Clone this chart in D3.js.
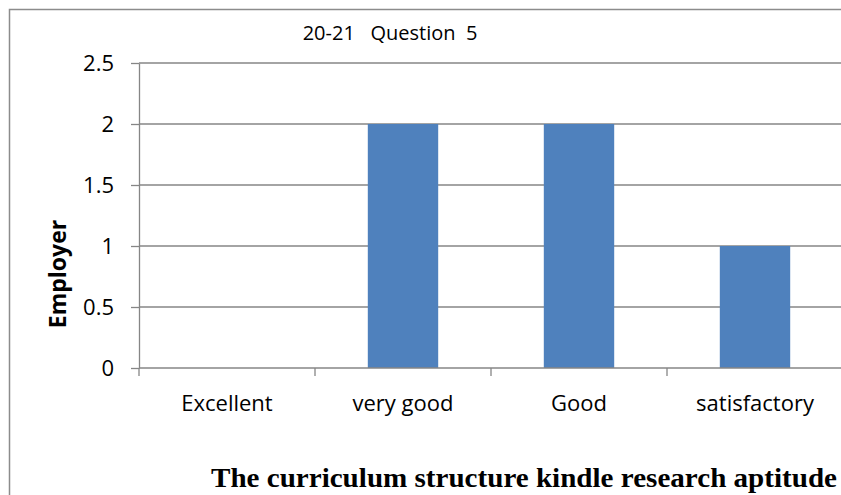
<!DOCTYPE html>
<html>
<head>
<meta charset="utf-8">
<script src="https://cdn.jsdelivr.net/npm/d3@7"></script>
<style>
  html, body { margin: 0; padding: 0; background: #fff; overflow: hidden; }
  svg { display: block; }
  .axis text { font-family: "Open Sans", sans-serif; font-size: 22px; fill: #000; }
  .axis path, .axis line { stroke: #868686; stroke-width: 1.3; }
</style>
</head>
<body>
<div id="chart"></div>
<script>
// chart data
var categories = ["Excellent", "very good", "Good", "satisfactory"];
var values = [0, 2, 2, 1];
var yTicks = [0, 0.5, 1, 1.5, 2, 2.5];
var chartTitle = "20-21   Question  5";
var yTitle = "Employer";
var xTitle = "The curriculum structure kindle research aptitude";

// outer size and plot area
var W = 841, H = 495;
var plot = {left: 139, right: 843, top: 63, bottom: 368};

var svg = d3.select("#chart")
    .append("svg")
    .attr("width", W)
    .attr("height", H);

// chart border: only the left and top edges are inside the picture
svg.append("path")
    .attr("d", "M9.5," + H + "V9.5H" + W)
    .attr("fill", "none")
    .attr("stroke", "#8c8c8c")
    .attr("stroke-width", 1.5);

// scales
var x = d3.scaleBand()
    .domain(categories)
    .range([plot.left, plot.right])
    .paddingInner(0.6)
    .paddingOuter(0.3);

var y = d3.scaleLinear()
    .domain([0, 2.5])
    .range([plot.bottom, plot.top]);

// horizontal gridlines
svg.append("g")
    .selectAll("line")
    .data(yTicks.filter(function(d) { return d > 0; }))
    .enter().append("line")
    .attr("x1", plot.left)
    .attr("x2", W)
    .attr("y1", function(d) { return y(d); })
    .attr("y2", function(d) { return y(d); })
    .attr("stroke", "#868686")
    .attr("stroke-width", 1.3);

// bars
svg.append("g")
    .selectAll("rect")
    .data(values)
    .enter().append("rect")
    .attr("x", function(d, i) { return x(categories[i]); })
    .attr("y", function(d) { return y(d); })
    .attr("width", x.bandwidth())
    .attr("height", function(d) { return y(0) - y(d); })
    .attr("fill", "#4f81bd");

// y axis
var yAxis = d3.axisLeft(y)
    .tickValues(yTicks)
    .tickFormat(d3.format("~g"))
    .tickSizeInner(8)
    .tickSizeOuter(0)
    .tickPadding(17);

svg.append("g")
    .attr("class", "axis")
    .attr("transform", "translate(" + plot.left + ",0)")
    .call(yAxis);

// x axis: ticks sit on band edges, so draw them apart from the labels
var xAxisG = svg.append("g")
    .attr("class", "axis");

xAxisG.append("line")
    .attr("x1", plot.left)
    .attr("x2", W)
    .attr("y1", y(0))
    .attr("y2", y(0));

xAxisG.selectAll(".tk")
    .data(categories)
    .enter().append("line")
    .attr("class", "tk")
    .attr("x1", function(d) { return x(d) - x.step() * x.paddingOuter(); })
    .attr("x2", function(d) { return x(d) - x.step() * x.paddingOuter(); })
    .attr("y1", y(0))
    .attr("y2", y(0) + 8);

xAxisG.selectAll(".lbl")
    .data(categories)
    .enter().append("text")
    .attr("class", "lbl")
    .attr("x", function(d) { return x(d) + x.bandwidth() / 2; })
    .attr("y", 411)
    .attr("text-anchor", "middle")
    .text(function(d) { return d; });

// chart title
svg.append("text")
    .attr("x", 390)
    .attr("y", 40)
    .attr("text-anchor", "middle")
    .style("font-family", "'Open Sans', sans-serif")
    .style("font-size", "20px")
    .style("white-space", "pre")
    .text(chartTitle);

// y axis title
svg.append("text")
    .attr("transform", "translate(66,274) rotate(-90)")
    .attr("text-anchor", "middle")
    .style("font-family", "'Open Sans', sans-serif")
    .style("font-size", "23px")
    .style("font-weight", "bold")
    .text(yTitle);

// x axis title
svg.append("text")
    .attr("x", 524)
    .attr("y", 487)
    .attr("text-anchor", "middle")
    .attr("textLength", 626)
    .attr("lengthAdjust", "spacingAndGlyphs")
    .style("font-family", "'Liberation Serif', 'Times New Roman', serif")
    .style("font-size", "28px")
    .style("font-weight", "bold")
    .text(xTitle);
</script>
</body>
</html>
